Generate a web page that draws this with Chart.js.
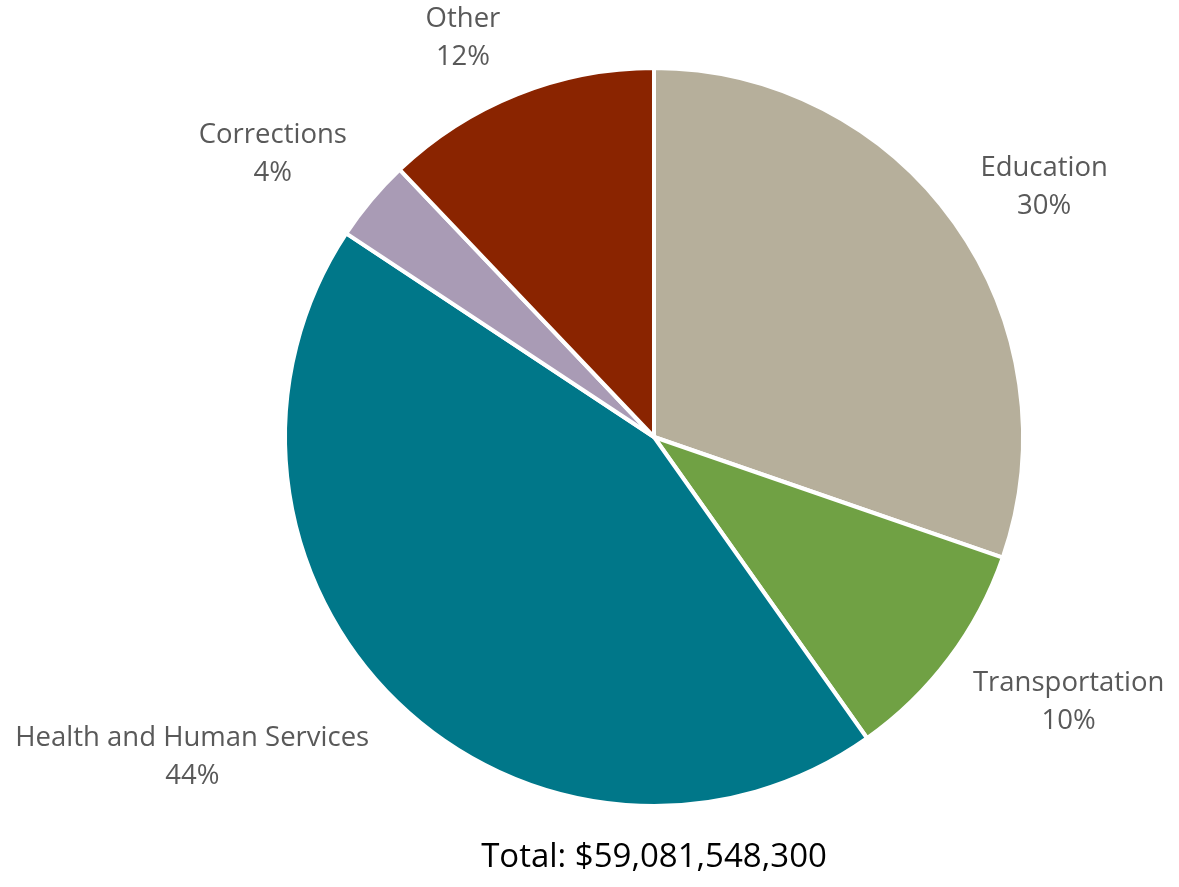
<!DOCTYPE html>
<html>
<head>
<meta charset="utf-8">
<script src="https://cdn.jsdelivr.net/npm/chart.js@4/dist/chart.umd.min.js"></script>
<style>
  html, body { margin: 0; padding: 0; background: #ffffff; }
  #wrap { width: 1179px; height: 887px; position: relative; }
</style>
</head>
<body>
<div id="wrap"><canvas id="pie" width="1179" height="887"></canvas></div>
<script>
// Share of total spending by area (percent)
const categories = ['Education', 'Transportation', 'Health and Human Services', 'Corrections', 'Other'];
const shares = [30.3, 9.9, 44.1, 3.6, 12.1];
const totalLabel = 'Total: $59,081,548,300';

const sliceColors = ['#B6AF9B', '#70A144', '#007789', '#A99BB5', '#8A2400'];

// Label placement relative to each slice: distance as a multiple of the
// outer radius, and a small turn (degrees) away from the slice's mid angle.
const labelRadiusFactor = [1.256, 1.334, 1.522, 1.286, 1.199];
const labelAngleShift = [2.8, -4.3, 11.2, -3.4, -3.8];

const FONT = '"Open Sans", Lato, sans-serif';

const sliceLabels = {
  id: 'sliceLabels',
  afterDatasetsDraw(chart) {
    const ctx = chart.ctx;
    const meta = chart.getDatasetMeta(0);
    ctx.save();
    ctx.fillStyle = '#595959';
    ctx.font = '27.5px ' + FONT;
    ctx.textAlign = 'center';
    ctx.textBaseline = 'middle';
    meta.data.forEach((arc, i) => {
      const p = arc.getProps(['x', 'y', 'startAngle', 'endAngle', 'outerRadius'], true);
      const mid = (p.startAngle + p.endAngle) / 2 + labelAngleShift[i] * Math.PI / 180;
      const r = p.outerRadius * labelRadiusFactor[i];
      const cx = p.x + Math.cos(mid) * r;
      const cy = p.y + Math.sin(mid) * r;
      const pct = Math.round(shares[i]) + '%';
      ctx.fillText(categories[i], cx, cy - 19);
      ctx.fillText(pct, cx, cy + 19);
    });
    ctx.restore();
  },
  afterDraw(chart) {
    const ctx = chart.ctx;
    const meta = chart.getDatasetMeta(0);
    const arc = meta.data[0];
    ctx.save();
    ctx.fillStyle = '#000000';
    ctx.font = '33px ' + FONT;
    ctx.textAlign = 'center';
    ctx.textBaseline = 'middle';
    ctx.fillText(totalLabel, arc.x, chart.height - 29);
    ctx.restore();
  }
};

new Chart(document.getElementById('pie'), {
  type: 'pie',
  data: {
    labels: categories,
    datasets: [{
      data: shares,
      backgroundColor: sliceColors,
      borderColor: '#ffffff',
      borderWidth: 4
    }]
  },
  options: {
    responsive: false,
    animation: false,
    layout: { padding: { left: 283, right: 154, top: 66, bottom: 79 } },
    plugins: {
      legend: { display: false },
      tooltip: { enabled: false }
    }
  },
  plugins: [sliceLabels]
});
</script>
</body>
</html>
